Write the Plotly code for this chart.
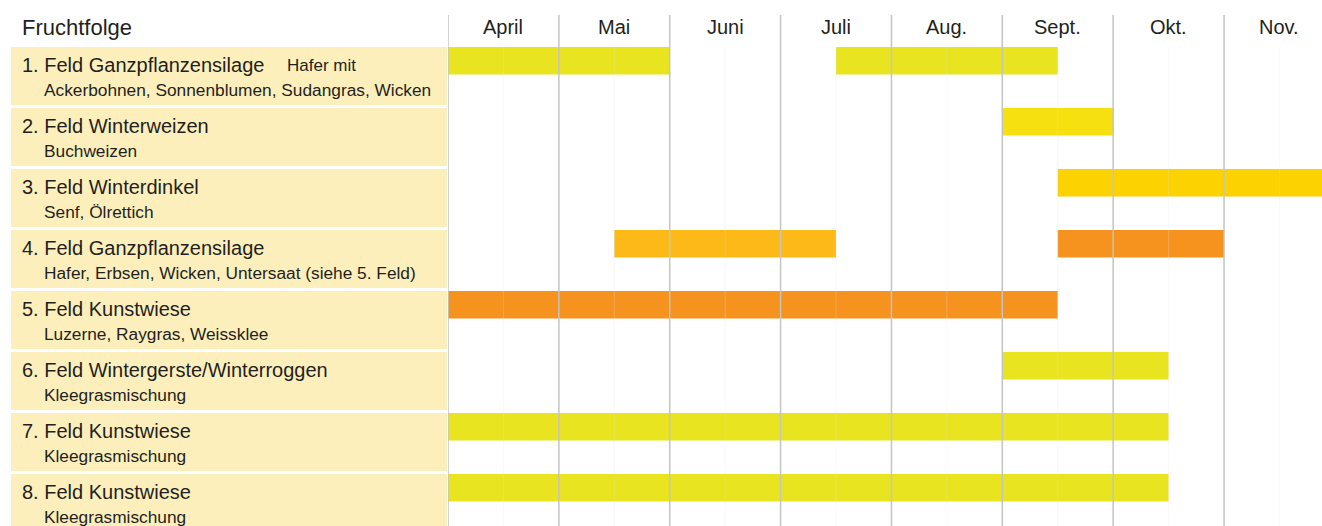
import plotly.graph_objects as go

# ---- data ----
months = ["April", "Mai", "Juni", "Juli", "Aug.", "Sept.", "Okt.", "Nov."]
header = "Fruchtfolge"
field_titles = [
    "1. Feld Ganzpflanzensilage",
    "2. Feld Winterweizen",
    "3. Feld Winterdinkel",
    "4. Feld Ganzpflanzensilage",
    "5. Feld Kunstwiese",
    "6. Feld Wintergerste/Winterroggen",
    "7. Feld Kunstwiese",
    "8. Feld Kunstwiese",
]
field_inline = ["Hafer mit", "", "", "", "", "", "", ""]
field_subtitles = [
    "Ackerbohnen, Sonnenblumen, Sudangras, Wicken",
    "Buchweizen",
    "Senf, Ölrettich",
    "Hafer, Erbsen, Wicken, Untersaat (siehe 5. Feld)",
    "Luzerne, Raygras, Weissklee",
    "Kleegrasmischung",
    "Kleegrasmischung",
    "Kleegrasmischung",
]
# segments: field index, start month offset (0 = 1. April), end month offset
seg_field = [0, 0, 1, 2, 3, 3, 4, 5, 6, 7]
seg_start = [0.0, 3.5, 5.0, 5.5, 1.5, 5.5, 0.0, 5.0, 0.0, 0.0]
seg_end = [2.0, 5.5, 6.0, 8.0, 3.5, 7.0, 5.5, 6.5, 6.5, 6.5]

# ---- styles ----
seg_color = ["#e9e420", "#e9e420", "#f6e00f", "#fcd200", "#fcb918",
             "#f6931f", "#f6931f", "#e9e420", "#e9e420", "#e9e420"]
W, H = 1322, 526
ROW = 61.0                   # px per row
TOP = 47.0                   # first row top (px)
LEFT_X0, LEFT_X1 = 11, 447
CHART_X0 = 448
MONTH_PX = 110.86
FONT = "Liberation Sans, Arial, sans-serif"
TXT = "#231f20"
BOX = "#fdefbc"

y_top = -TOP / ROW
y_bot = (H - TOP) / ROW
x_max = (W - CHART_X0) / MONTH_PX


def px(x):
    return x / W


def py(y):
    return 1 - y / H


fig = go.Figure()

for f, s, e, c in zip(seg_field, seg_start, seg_end, seg_color):
    fig.add_trace(go.Bar(
        orientation="h", y=[f + 0.225], x=[e - s], base=[s], width=0.45,
        marker=dict(color=c, line=dict(width=0)), showlegend=False,
        hoverinfo="skip",
    ))

shapes = []
annotations = []
n = len(field_titles)
for i in range(n):
    shapes.append(dict(type="rect", xref="paper", yref="y",
                       x0=LEFT_X0 / W, x1=LEFT_X1 / W, y0=i, y1=i + 0.95,
                       fillcolor=BOX, line=dict(width=0), layer="below"))
    annotations.append(dict(xref="paper", yref="y", x=px(20), y=i + 0.30,
                            text=field_titles[i], showarrow=False,
                            xanchor="left", yanchor="middle",
                            font=dict(family=FONT, size=20, color=TXT)))
    if field_inline[i]:
        annotations.append(dict(xref="paper", yref="y", x=px(285), y=i + 0.31,
                                text=field_inline[i], showarrow=False,
                                xanchor="left", yanchor="middle",
                                font=dict(family=FONT, size=17, color=TXT)))
    annotations.append(dict(xref="paper", yref="y", x=px(42), y=i + 0.71,
                            text=field_subtitles[i], showarrow=False,
                            xanchor="left", yanchor="middle",
                            font=dict(family=FONT, size=17.3, color=TXT)))

# header
annotations.append(dict(xref="paper", yref="paper", x=px(20), y=py(27),
                        text=header, showarrow=False, xanchor="left",
                        yanchor="middle",
                        font=dict(family=FONT, size=22, color=TXT)))
for m, name in enumerate(months):
    annotations.append(dict(xref="x", yref="paper", x=m + 0.5, y=py(27),
                            text=name, showarrow=False, xanchor="center",
                            yanchor="middle",
                            font=dict(family=FONT, size=20, color=TXT)))

# month grid lines (above bars) and faint half-month lines
for m in range(len(months)):
    shapes.append(dict(type="line", xref="x", yref="paper", x0=m, x1=m,
                       y0=0, y1=py(15),
                       line=dict(color="#c4c4c4", width=1.5), layer="above"))
    shapes.append(dict(type="line", xref="x", yref="paper", x0=m + 0.5,
                       x1=m + 0.5, y0=0, y1=py(47),
                       line=dict(color="rgba(230,230,230,0.25)", width=1),
                       layer="above"))

fig.update_layout(
    width=W, height=H,
    margin=dict(l=0, r=0, t=0, b=0),
    paper_bgcolor="white", plot_bgcolor="rgba(0,0,0,0)",
    barmode="overlay",
    xaxis=dict(domain=[CHART_X0 / W, 1], range=[0, x_max], showgrid=False,
               zeroline=False, showticklabels=False, ticks="", fixedrange=True),
    yaxis=dict(range=[y_bot, y_top], showgrid=False, zeroline=False,
               showticklabels=False, ticks="", fixedrange=True),
    shapes=shapes, annotations=annotations,
    font=dict(family=FONT, color=TXT),
)

fig.write_html(
    "out.html",
    config={"displayModeBar": False},
    post_script="document.body.style.margin='0';"
                "document.body.style.overflow='hidden';",
)
